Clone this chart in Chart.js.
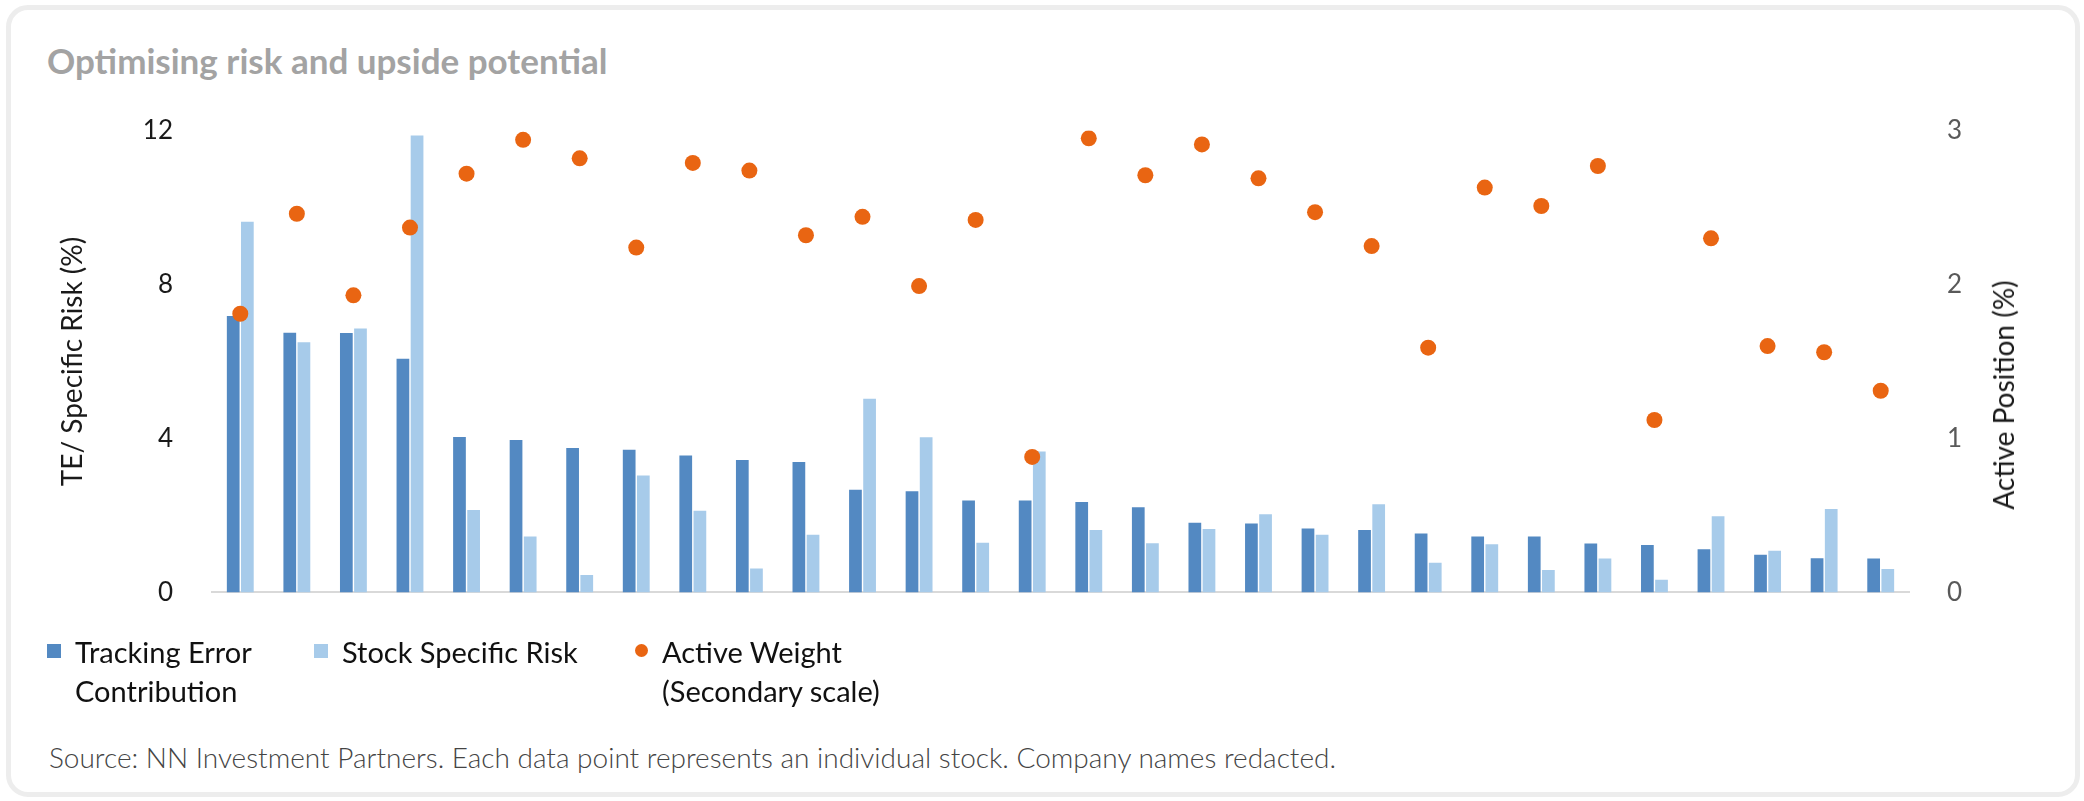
<!DOCTYPE html>
<html>
<head>
<meta charset="utf-8">
<script src="https://cdn.jsdelivr.net/npm/chart.js@4.4.1/dist/chart.umd.min.js"></script>
<style>
  html, body { margin: 0; padding: 0; background: #fff; }
  body { width: 2084px; height: 801px; position: relative; overflow: hidden; font-family: Lato, "Open Sans", sans-serif; }
  .card { position: absolute; left: 6px; top: 5px; width: 2064px; height: 782px; border: 5px solid #ededed; border-radius: 22px; }
  .title { position: absolute; left: 47px; top: 39px; font-size: 35px; line-height: 42px; font-weight: 700; color: #a3a3a3; }
  #wrap { position: absolute; left: 0; top: 76px; width: 2084px; height: 571px; }
  .ytitle2 { position: absolute; left: 2003px; top: 395px; transform: translate(-50%, -50%) rotate(-90deg); white-space: nowrap; font-size: 28px; color: #1a1a1a; }
  .legend { position: absolute; top: 632px; font-size: 29px; line-height: 39px; color: #111; }
  .legend .sw { position: absolute; top: 12px; width: 14px; height: 14px; }
  .legend .txt { position: absolute; white-space: nowrap; }
  .source { position: absolute; left: 49px; top: 740px; font-size: 28px; font-weight: 300; color: #444; white-space: nowrap; }
</style>
</head>
<body>
<div class="card"></div>
<div class="title">Optimising risk and upside potential</div>
<div id="wrap"><canvas id="chart"></canvas></div>
<div class="ytitle2">Active Position (%)</div>

<div class="legend" style="left:0">
  <div class="sw" style="left:47px;background:#5389c2"></div>
  <div class="txt" style="left:75px">Tracking Error<br>Contribution</div>
  <div class="sw" style="left:314px;background:#a7cbea"></div>
  <div class="txt" style="left:342px">Stock Specific Risk</div>
  <div class="sw" style="left:635px;width:13px;height:13px;border-radius:50%;background:#e96512"></div>
  <div class="txt" style="left:662px">Active Weight<br>(Secondary scale)</div>
</div>

<div class="source">Source: NN Investment Partners. Each data point represents an individual stock. Company names redacted.</div>

<script>
// one category per stock (names redacted in the source)
const stocks = ['1', '2', '3', '4', '5', '6', '7', '8', '9', '10',
                '11', '12', '13', '14', '15', '16', '17', '18', '19', '20',
                '21', '22', '23', '24', '25', '26', '27', '28', '29', '30'];

// TE / specific risk, left axis (%)
const trackingError = [7.18, 6.75, 6.74, 6.07, 4.04, 3.96, 3.75, 3.71, 3.56, 3.44,
                       3.39, 2.67, 2.63, 2.39, 2.39, 2.35, 2.21, 1.81, 1.79, 1.66,
                       1.62, 1.53, 1.45, 1.45, 1.27, 1.23, 1.12, 0.98, 0.89, 0.88];
const specificRisk = [9.63, 6.50, 6.86, 11.87, 2.14, 1.45, 0.45, 3.04, 2.12, 0.62,
                      1.50, 5.03, 4.03, 1.29, 3.66, 1.62, 1.28, 1.65, 2.03, 1.50,
                      2.29, 0.77, 1.25, 0.58, 0.88, 0.33, 1.98, 1.08, 2.17, 0.61];

// active weight, right axis (%)
const activeWeight = [1.81, 2.46, 1.93, 2.37, 2.72, 2.94, 2.82, 2.24, 2.79, 2.74,
                      2.32, 2.44, 1.99, 2.42, 0.88, 2.95, 2.71, 2.91, 2.69, 2.47,
                      2.25, 1.59, 2.63, 2.51, 2.77, 1.12, 2.30, 1.60, 1.56, 1.31];

const leftTicks = [0, 4, 8, 12];
const rightTicks = [0, 1, 2, 3];

const tickFont = { family: 'Lato, sans-serif', size: 26 };

new Chart(document.getElementById('chart'), {
    data: {
        labels: stocks,
        datasets: [
            {
                type: 'line',
                label: 'Active Weight (Secondary scale)',
                data: activeWeight,
                yAxisID: 'y2',
                showLine: false,
                pointRadius: 8,
                pointBorderWidth: 0,
                pointBackgroundColor: '#e96512',
                pointBorderColor: '#e96512',
                order: 0
            },
            {
                type: 'bar',
                label: 'Tracking Error Contribution',
                data: trackingError,
                yAxisID: 'y',
                backgroundColor: '#5389c2',
                categoryPercentage: 0.5,
                barPercentage: 0.9,
                order: 1
            },
            {
                type: 'bar',
                label: 'Stock Specific Risk',
                data: specificRisk,
                yAxisID: 'y',
                backgroundColor: '#a7cbea',
                categoryPercentage: 0.5,
                barPercentage: 0.9,
                order: 1
            }
        ]
    },
    options: {
        responsive: true,
        maintainAspectRatio: false,
        animation: false,
        layout: { padding: 0 },
        plugins: {
            legend: { display: false },
            tooltip: { enabled: false }
        },
        scales: {
            x: {
                grid: { display: false, drawTicks: false },
                border: { display: true, color: '#d9d9d9', width: 2 },
                ticks: { display: false }
            },
            y: {
                position: 'left',
                min: 0,
                max: 12,
                afterBuildTicks: (axis) => { axis.ticks = leftTicks.map(v => ({ value: v })); },
                afterFit: (axis) => { axis.width = 212; },
                grid: { display: false, drawTicks: false },
                border: { display: false },
                ticks: { color: '#1a1a1a', font: tickFont, padding: 39 },
                title: {
                    display: true,
                    text: 'TE/ Specific Risk (%)',
                    color: '#1a1a1a',
                    font: { family: 'Lato, sans-serif', size: 28 },
                    padding: { top: 56, bottom: 0 }
                }
            },
            y2: {
                position: 'right',
                min: 0,
                max: 3,
                afterBuildTicks: (axis) => { axis.ticks = rightTicks.map(v => ({ value: v })); },
                afterFit: (axis) => { axis.width = 175; },
                grid: { display: false, drawTicks: false },
                border: { display: false },
                ticks: { color: '#595959', font: tickFont, padding: 38 }
            }
        }
    }
});
</script>
</body>
</html>
